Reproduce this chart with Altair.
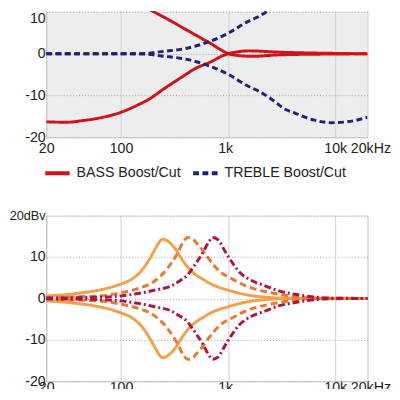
import altair as alt
import pandas as pd

FONT = "Liberation Sans"
BG = "#ededed"
BORDER = "#c4c4c4"
VGRID = "#d2d2d2"
HGRID = "#a6a6a6"
TXT = "#222222"

# ---------------- data: top panel (BASS / TREBLE) ----------------
bass_boost_f = [20, 31, 44, 62, 100, 145, 198, 272, 373, 513, 703, 850, 1000, 1280, 1690, 2960, 10000, 20000]
bass_boost_db = [16.4, 16.3, 16.0, 15.4, 14.0, 12.2, 10.2, 8.3, 6.3, 4.3, 2.3, 1.0, 0.05, -0.45, -0.6, -0.25, -0.05, 0.0]

bass_cut_f = [20, 31, 44, 62, 100, 117, 145, 179, 254, 363, 513, 632, 728, 898, 1000, 1280, 1575, 2960, 10000, 20000]
bass_cut_db = [-16.3, -16.4, -16.0, -15.4, -14.0, -13.3, -12.2, -11.0, -8.3, -5.7, -3.3, -2.35, -1.6, -0.4, 0.0, 0.55, 0.7, 0.4, 0.1, 0.0]

treble_boost_f = [20, 145, 254, 387, 632, 964, 1575, 1946, 2578, 3410, 4200, 6400, 9100, 12900, 20000]
treble_boost_db = [0.0, 0.0, 0.6, 1.2, 2.7, 4.7, 7.9, 9.0, 11.0, 13.3, 14.2, 15.9, 16.5, 16.3, 15.2]

treble_cut_f = [20, 145, 254, 387, 632, 964, 1575, 1946, 2578, 3410, 4200, 6400, 9100, 12900, 20000]
treble_cut_db = [0.0, 0.0, -0.6, -1.2, -2.7, -4.7, -7.9, -9.0, -11.0, -13.3, -14.2, -15.9, -16.5, -16.3, -15.2]

top_types = ["BASS Boost/Cut", "TREBLE Boost/Cut"]
top_colors = ["#d0121b", "#1e2473"]
top_dashes = [[1, 0], [6, 3.5]]

# ---------------- data: bottom panel (MID sweeps) ----------------
mid1_f = [20, 27, 41, 62, 100, 125, 145, 165, 185, 213, 230, 245, 292, 330, 361, 400, 445, 513, 590, 728, 1000, 1470, 2090, 3000, 5000, 20000]
mid1_boost = [0.6, 0.8, 1.3, 2.0, 3.5, 4.6, 5.9, 7.6, 9.6, 12.4, 13.8, 14.3, 13.2, 11.5, 9.9, 8.2, 6.8, 5.5, 4.5, 3.2, 2.0, 0.9, 0.35, 0.1, 0.0, 0.0]
mid1_cut = [-0.6, -0.8, -1.3, -2.0, -3.5, -4.6, -5.9, -7.6, -9.6, -12.4, -13.8, -14.3, -13.2, -11.5, -9.9, -8.2, -6.8, -5.5, -4.5, -3.2, -2.0, -0.9, -0.35, -0.1, 0.0, 0.0]

mid2_f = [20, 27, 62, 100, 145, 206, 272, 336, 380, 420, 470, 513, 590, 632, 837, 1110, 1470, 2090, 2960, 4200, 6000, 20000]
mid2_boost = [0.2, 0.3, 0.6, 1.4, 2.4, 4.2, 7.3, 10.9, 13.6, 14.7, 14.3, 13.2, 11.3, 10.2, 6.5, 4.6, 3.0, 1.8, 1.0, 0.4, 0.1, 0.0]
mid2_cut = [-0.2, -0.3, -0.6, -1.4, -2.4, -4.2, -7.3, -10.9, -13.6, -14.7, -14.3, -13.2, -11.3, -10.2, -6.5, -4.6, -3.0, -1.8, -1.0, -0.4, -0.1, 0.0]

mid3_f = [20, 62, 100, 145, 206, 292, 351, 415, 465, 513, 576, 650, 720, 800, 964, 1280, 1690, 2240, 2960, 4200, 5980, 8500, 20000]
mid3_boost = [0.1, 0.3, 0.6, 1.2, 2.0, 3.0, 4.2, 5.6, 7.3, 8.9, 10.9, 13.4, 14.7, 14.2, 10.8, 6.3, 4.2, 3.0, 1.8, 1.0, 0.4, 0.1, 0.0]
mid3_cut = [-0.1, -0.3, -0.6, -1.2, -2.0, -3.0, -4.2, -5.6, -7.3, -8.9, -10.9, -13.4, -14.7, -14.2, -10.8, -6.3, -4.2, -3.0, -1.8, -1.0, -0.4, -0.1, 0.0]

mid_colors = ["#f4a04a", "#e8772f", "#b3123f"]
mid_dashes = [[1, 0], [7, 4], [7, 3, 2, 3]]

x_ticks = [20, 100, 1000, 10000, 20000]
x_labels = ["20", "100", "1k", "10k", "20kHz"]


def rows(freqs, vals, **extra):
    return [dict(f=f, db=v, **extra) for f, v in zip(freqs, vals)]


top_df = pd.DataFrame(
    rows(bass_boost_f, bass_boost_db, type=top_types[0], series="bass_boost")
    + rows(bass_cut_f, bass_cut_db, type=top_types[0], series="bass_cut")
    + rows(treble_boost_f, treble_boost_db, type=top_types[1], series="treble_boost")
    + rows(treble_cut_f, treble_cut_db, type=top_types[1], series="treble_cut")
)

mid_dfs = [
    pd.DataFrame(rows(mid1_f, mid1_boost, series="b") + rows(mid1_f, mid1_cut, series="c")),
    pd.DataFrame(rows(mid2_f, mid2_boost, series="b") + rows(mid2_f, mid2_cut, series="c")),
    pd.DataFrame(rows(mid3_f, mid3_boost, series="b") + rows(mid3_f, mid3_cut, series="c")),
]

x_label_expr = " : ".join(
    f"datum.value == {v} ? '{t}'" for v, t in zip(x_ticks, x_labels)
) + " : ''"

y_label_expr = "datum.value == 20 ? '20dBv' : (datum.value < 0 ? '-' + abs(datum.value) : '' + datum.value)"


def x_enc(pad=5):
    return alt.X(
        "f:Q",
        scale=alt.Scale(type="log", domain=[20, 20000], nice=False),
        axis=alt.Axis(
            values=x_ticks,
            labelExpr=x_label_expr,
            ticks=False,
            domain=True,
            domainColor=BORDER,
            grid=True,
            gridColor=VGRID,
            labelPadding=pad,
            labelFontSize=14.5,
            labelColor=TXT,
            labelFont=FONT,
            labelFlush=False,
            labelOverlap=False,
            labelOffset={"condition": [{"test": "datum.value == 20000", "value": 3},
                                        {"test": "datum.value == 1000", "value": -3}],
                         "value": 0},
            title=None,
        ),
    )


def y_enc(domain, values, top=False):
    return alt.Y(
        "db:Q",
        scale=alt.Scale(domain=domain, nice=False, zero=False),
        axis=alt.Axis(
            values=values,
            labelExpr=y_label_expr,
            ticks=False,
            domain=True,
            domainColor=BORDER,
            grid=True,
            gridColor=HGRID,
            gridDash=[1, 2],
            labelPadding=1,
            labelFontSize=alt.condition("datum.value == 20", alt.value(13), alt.value(14.5)),
            labelBaseline=alt.condition("datum.value == 10", alt.value("top" if top else "middle"), alt.value("middle")),
            labelColor=TXT,
            labelFont=FONT,
            labelFlush=False,
            labelOverlap=False,
            title=None,
        ),
    )


legend = alt.Legend(
    title=None,
    orient="none",
    legendX=-3,
    legendY=151,
    direction="horizontal",
    symbolType="stroke",
    symbolSize=625,
    symbolStrokeWidth=4,
    labelFontSize=14.5,
    labelFont=FONT,
    labelColor=TXT,
    labelOffset=5,
    columnPadding=4,
    padding=0,
)

top = alt.Chart(top_df).mark_line(strokeWidth=3, interpolate="monotone", clip=True).encode(
    x=x_enc(),
    y=y_enc([-20, 10.28], [-20, -10, 0, 10], top=True),
    color=alt.Color("type:N", scale=alt.Scale(domain=top_types, range=top_colors), legend=legend),
    strokeDash=alt.StrokeDash("type:N", scale=alt.Scale(domain=top_types, range=top_dashes), legend=legend),
    detail="series:N",
).properties(width=328, height=129, view=alt.ViewBackground(fill=BG, stroke="transparent"))

mid_layers = []
for df, col, dash in zip(mid_dfs, mid_colors, mid_dashes):
    mid_layers.append(
        alt.Chart(df).mark_line(strokeWidth=3, interpolate="monotone", color=col, strokeDash=dash).encode(
            x=x_enc(pad=0),
            y=y_enc([-20, 20], [-20, -10, 0, 10, 20]),
            detail="series:N",
        )
    )

bottom = alt.layer(*mid_layers).properties(width=328, height=169)

chart = (
    alt.vconcat(top, bottom, spacing=80, bounds="flush")
    .resolve_scale(color="independent", strokeDash="independent")
    .properties(padding={"left": 0, "top": -2, "right": 0, "bottom": -10})
    .configure_view(fill=BG, stroke=BORDER)
    .configure(font=FONT)
)

chart.save("out.html", embed_options={"renderer": "svg", "actions": False})
